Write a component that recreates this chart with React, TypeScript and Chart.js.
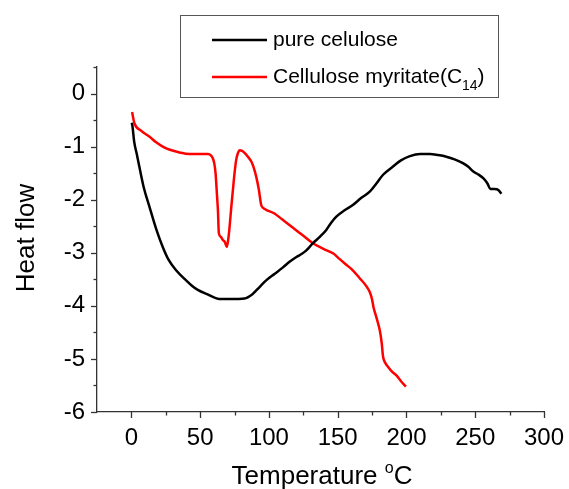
import React, { useEffect, useRef } from "react";
import { Chart, registerables } from "chart.js";

Chart.register(...registerables);

const pureT = [0.3, 0.8, 2, 4, 5.8, 9, 13.1, 18, 22.8, 27, 32.5, 39.8, 44, 48.3, 55, 64, 72, 82.3, 88, 93, 98, 104, 110, 115, 120, 124, 127, 132, 137, 141.7, 144, 149, 155, 161, 167, 173.3, 178, 183, 190, 196, 202.5, 210, 217, 223, 229, 235, 241, 245, 248.6, 252, 256, 259, 261, 264, 267, 269];
const pureV = [-0.55, -0.62, -0.9, -1.15, -1.38, -1.77, -2.13, -2.55, -2.89, -3.13, -3.33, -3.52, -3.62, -3.7, -3.78, -3.87, -3.87, -3.86, -3.78, -3.65, -3.52, -3.4, -3.28, -3.17, -3.08, -3.02, -2.96, -2.82, -2.7, -2.57, -2.48, -2.32, -2.2, -2.1, -1.97, -1.85, -1.7, -1.53, -1.38, -1.26, -1.18, -1.14, -1.14, -1.16, -1.19, -1.24, -1.31, -1.38, -1.47, -1.52, -1.6, -1.7, -1.8, -1.8, -1.82, -1.89];

const myrT = [0.5, 2.2, 7, 13, 18, 22.8, 28, 35, 42, 50, 55.6, 58, 59.2, 60.3, 61.2, 62.2, 62.9, 63.6, 65, 66.5, 68, 69.4, 70.4, 71.4, 72.6, 73.8, 75, 76.2, 77.5, 78.7, 80.5, 82.3, 85, 87.2, 89, 90.8, 92.6, 94.4, 96, 98, 104, 110, 117.5, 124.6, 132, 140, 146.6, 151.5, 156, 161, 166, 170, 173.3, 175, 176, 178.5, 180.6, 182, 183, 184.5, 186.7, 189.5, 192.7, 196, 199.6];
const myrV = [-0.35, -0.56, -0.7, -0.81, -0.92, -1.0, -1.06, -1.11, -1.14, -1.14, -1.14, -1.17, -1.22, -1.32, -1.5, -1.9, -2.19, -2.63, -2.7, -2.76, -2.8, -2.89, -2.75, -2.51, -2.15, -1.82, -1.5, -1.25, -1.12, -1.07, -1.08, -1.12, -1.2, -1.28, -1.4, -1.57, -1.8, -2.1, -2.16, -2.19, -2.26, -2.38, -2.53, -2.67, -2.82, -2.93, -3.01, -3.12, -3.22, -3.33, -3.48, -3.6, -3.74, -3.88, -4.02, -4.25, -4.46, -4.7, -4.96, -5.07, -5.15, -5.24, -5.31, -5.42, -5.52];

const seriesNames = ["pure celulose", "Cellulose myritate(C"];
const xTickLabels = [0, 50, 100, 150, 200, 250, 300];
const yTickLabels = [0, -1, -2, -3, -4, -5, -6];

const FONT = '"Liberation Sans", Arial, sans-serif';

const decorPlugin = {
  id: "decor",
  afterDraw(chart: any) {
    const ctx = chart.ctx;
    const xs = chart.scales.x;
    const ys = chart.scales.y;
    const area = chart.chartArea;
    ctx.save();
    ctx.strokeStyle = "#333";
    ctx.lineWidth = 1.3;
    for (let v = -6; v <= 0.5001; v += 0.5) {
      const py = Math.round(ys.getPixelForValue(v)) + 0.5;
      const major = Math.abs(v - Math.round(v)) < 1e-6;
      const len = major ? 6 : 3.5;
      ctx.beginPath();
      ctx.moveTo(area.left - len, py);
      ctx.lineTo(area.left, py);
      ctx.stroke();
    }
    for (let v = 0; v <= 300.001; v += 25) {
      const px = Math.round(xs.getPixelForValue(v)) + 0.5;
      const major = v % 50 === 0;
      const len = major ? 6 : 3.5;
      ctx.beginPath();
      ctx.moveTo(px, area.bottom);
      ctx.lineTo(px, area.bottom + len);
      ctx.stroke();
    }
    ctx.restore();

    ctx.save();
    ctx.fillStyle = "#000";
    ctx.font = `26px ${FONT}`;
    ctx.translate(27, 238);
    ctx.rotate(-Math.PI / 2);
    ctx.textAlign = "center";
    ctx.textBaseline = "middle";
    ctx.fillText("Heat flow", 0, 0);
    ctx.restore();

    ctx.save();
    ctx.fillStyle = "#000";
    ctx.textBaseline = "alphabetic";
    ctx.font = `26px ${FONT}`;
    const t1 = "Temperature ";
    const w1 = ctx.measureText(t1).width;
    ctx.font = `16px ${FONT}`;
    const wo = ctx.measureText("o").width;
    ctx.font = `26px ${FONT}`;
    const wc = ctx.measureText("C").width;
    const total = w1 + wo + wc;
    const x0 = 322 - total / 2;
    const base = 484;
    ctx.fillText(t1, x0, base);
    ctx.font = `16px ${FONT}`;
    ctx.fillText("o", x0 + w1, base - 11);
    ctx.font = `26px ${FONT}`;
    ctx.fillText("C", x0 + w1 + wo, base);
    ctx.restore();

    ctx.save();
    ctx.fillStyle = "#fff";
    ctx.fillRect(180.5, 15.5, 318, 82);
    ctx.strokeStyle = "#555";
    ctx.lineWidth = 1;
    ctx.strokeRect(180.5, 15.5, 318, 82);
    const rows = [
      { y: 40, color: "#000", label: seriesNames[0] },
      { y: 77, color: "#ff0000", label: seriesNames[1] },
    ];
    rows.forEach((r, i) => {
      ctx.strokeStyle = r.color;
      ctx.lineWidth = 2.5;
      ctx.beginPath();
      ctx.moveTo(212, r.y);
      ctx.lineTo(267, r.y);
      ctx.stroke();
      ctx.fillStyle = "#000";
      ctx.font = `21px ${FONT}`;
      ctx.textBaseline = "middle";
      ctx.textAlign = "left";
      ctx.fillText(r.label, 273, r.y);
      if (i === 1) {
        let xx = 273 + ctx.measureText(r.label).width;
        ctx.font = `14px ${FONT}`;
        ctx.fillText("14", xx, r.y + 9);
        xx += ctx.measureText("14").width;
        ctx.font = `21px ${FONT}`;
        ctx.fillText(")", xx, r.y);
      }
    });
    ctx.restore();
  },
};

export default function App() {
  const ref = useRef<HTMLCanvasElement>(null);
  useEffect(() => {
    document.body.style.margin = "0";
    const canvas = ref.current!;
    const chart = new Chart(canvas, {
      type: "scatter",
      data: {
        datasets: [
          {
            label: "pure celulose",
            data: pureT.map((t, i) => ({ x: t, y: pureV[i] })),
            showLine: true,
            borderColor: "#000",
            borderWidth: 2.5,
            pointRadius: 0,
            cubicInterpolationMode: "monotone",
          },
          {
            label: "Cellulose myritate(C14)",
            data: myrT.map((t, i) => ({ x: t, y: myrV[i] })),
            showLine: true,
            borderColor: "#ff0000",
            borderWidth: 2.5,
            pointRadius: 0,
            cubicInterpolationMode: "monotone",
          },
        ],
      },
      options: {
        responsive: false,
        animation: false,
        layout: { padding: { top: 67, right: 25, left: 0, bottom: 0 } },
        plugins: { legend: { display: false }, tooltip: { enabled: false } },
        scales: {
          x: {
            type: "linear",
            min: -25,
            max: 300,
            grid: { display: false, drawTicks: false },
            border: { display: true, color: "#333", width: 1.3 },
            afterFit: (s: any) => {
              s.height = 77;
              s.paddingLeft = 0;
              s.paddingRight = 0;
            },
            afterBuildTicks: (s: any) => {
              s.ticks = xTickLabels.map((v) => ({ value: v }));
            },
            ticks: {
              color: "#000",
              padding: 12,
              maxRotation: 0,
              autoSkip: false,
              font: { family: FONT, size: 24 },
            },
          },
          y: {
            type: "linear",
            min: -6,
            max: 0.5,
            grid: { display: false, drawTicks: false },
            border: { display: true, color: "#333", width: 1.3 },
            afterFit: (s: any) => {
              s.width = 97;
              s.paddingTop = 0;
              s.paddingBottom = 0;
            },
            afterBuildTicks: (s: any) => {
              s.ticks = yTickLabels.map((v) => ({ value: v }));
            },
            ticks: {
              color: "#000",
              padding: 12,
              autoSkip: false,
              font: { family: FONT, size: 24 },
            },
          },
        },
      },
      plugins: [decorPlugin],
    } as any);
    return () => chart.destroy();
  }, []);
  return (
    <div style={{ width: 569, height: 489 }}>
      <canvas ref={ref} width={569} height={489} />
    </div>
  );
}
